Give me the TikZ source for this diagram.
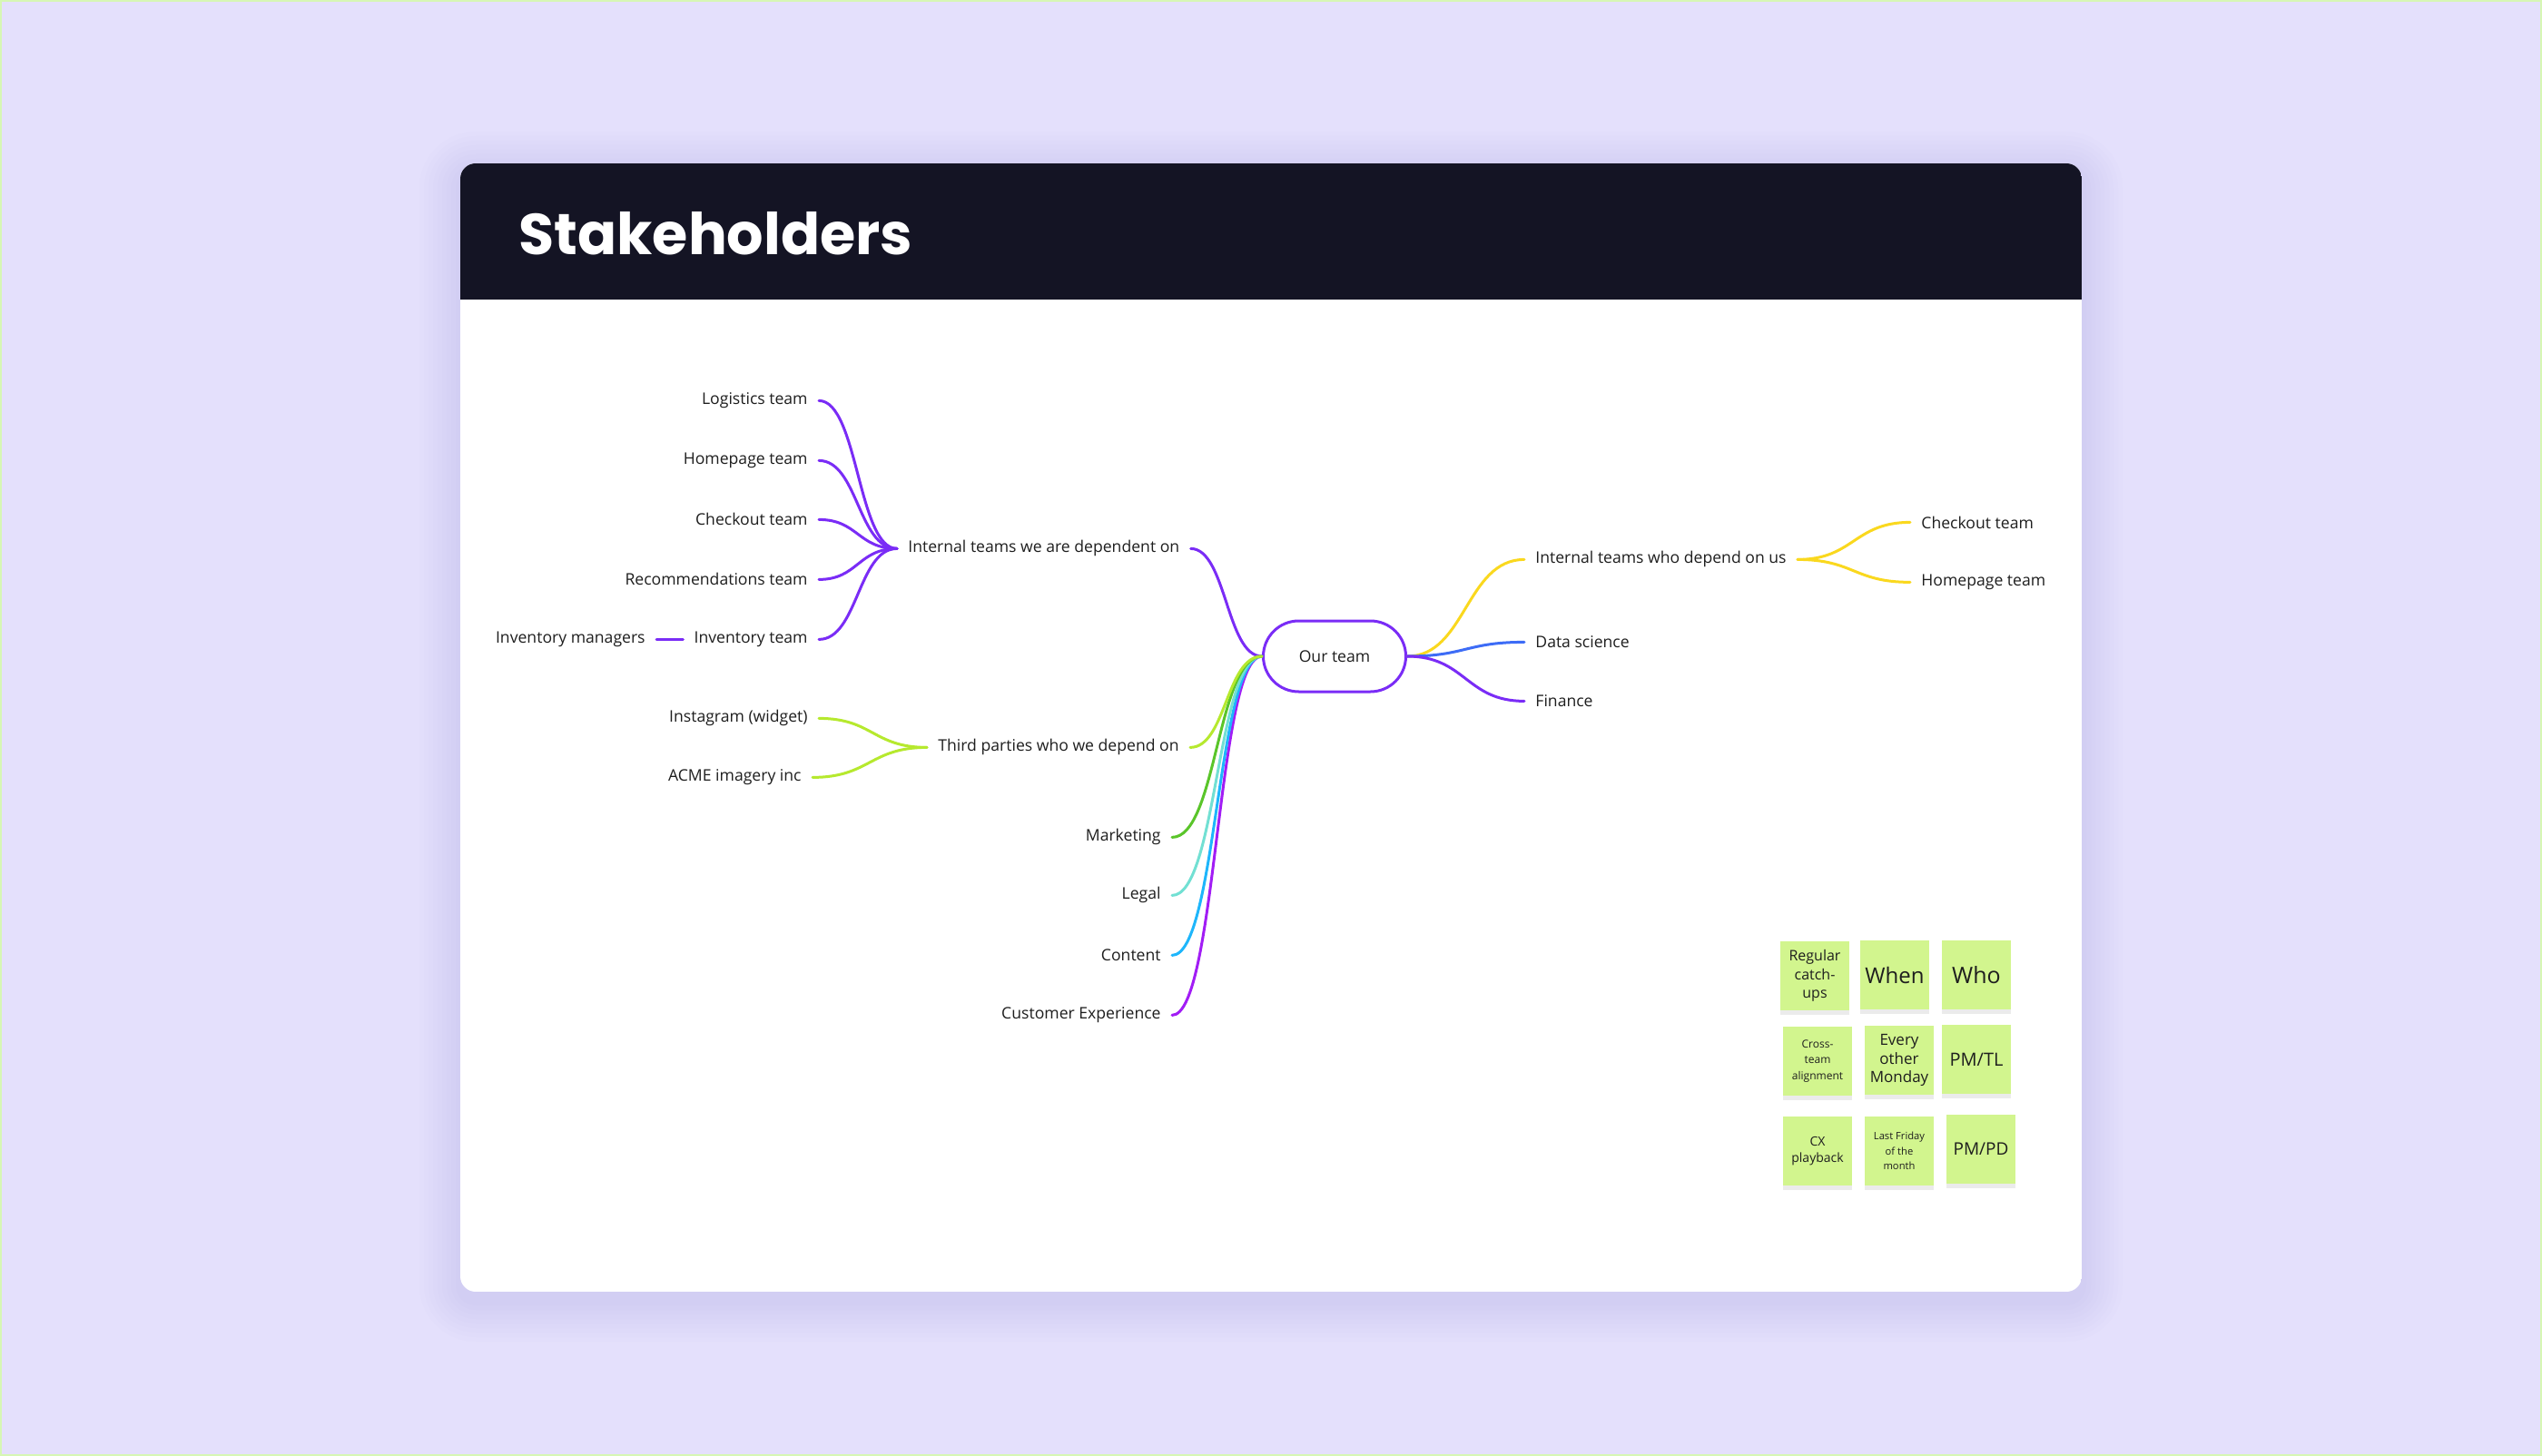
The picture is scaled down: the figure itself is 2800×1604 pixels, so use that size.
\documentclass[tikz,border=0pt]{standalone}
\usepackage{fontspec}
\setmainfont{Open Sans}
\newfontfamily\titlefont{Poppins}
\usetikzlibrary{positioning,calc,shadows}
\definecolor{bgc}{HTML}{E4E0FC}
\definecolor{edgec}{HTML}{D6F7B4}
\definecolor{shadowc}{HTML}{A89DDC}
\definecolor{headc}{HTML}{141424}
\definecolor{ink}{HTML}{1E1E1E}
\definecolor{purplec}{HTML}{7A2CF6}
\definecolor{violetc}{HTML}{A21DF5}
\definecolor{limec}{HTML}{B6E92E}
\definecolor{greenc}{HTML}{5AC52A}
\definecolor{tealc}{HTML}{72E0D3}
\definecolor{skyc}{HTML}{1EB6FB}
\definecolor{bluec}{HTML}{3D6CF6}
\definecolor{yellowc}{HTML}{FAD81E}
\definecolor{stickyc}{HTML}{D2F58E}

\begin{document}
\begin{tikzpicture}[x=0.5pt,y=-0.5pt,
every node/.style={font=\fontsize{8.8pt}{11pt}\selectfont,text=ink,
inner xsep=6pt,inner ysep=2pt},
link/.style={line width=1.5pt,line cap=round},
branch/.style={link,to path={let \p1=(\tikztostart),\p2=(\tikztotarget) in
.. controls ({(\x1+\x2)/2},\y1) and ({(\x1+\x2)/2},\y2) .. (\tikztotarget)}},
lbl/.style={anchor=east,yshift=-1.2pt},
rbl/.style={anchor=west,yshift=-1.2pt},
sticky/.style={fill=stickyc,minimum size=38pt,inner sep=1pt,align=center,
drop shadow={shadow xshift=0pt,shadow yshift=-2.5pt,fill=black,opacity=0.08}}]
\useasboundingbox (0,0) rectangle (2800,1604);
\fill[bgc] (0,0) rectangle (2800,1604);
\draw[edgec,line width=1pt] (1,1) rectangle (2799,1603);
\foreach \i in {1,...,9}
  \fill[shadowc,opacity=0.022,rounded corners=8.5pt+\i*2.5pt]
    (507-\i*5,180-\i*5+10) rectangle (2293+\i*5,1423+\i*5+10);
\begin{scope}
\clip[rounded corners=8.5pt] (507,180) rectangle (2293,1423);
\fill[white] (507,180) rectangle (2293,1423);
\fill[headc] (507,180) rectangle (2293,330);
\end{scope}
\node[anchor=base west,inner sep=0pt,text=white,
font=\titlefont\bfseries\fontsize{31.8pt}{36pt}\selectfont] (title) at (571,281) {Stakeholders};

\node[draw=purplec,line width=1.5pt,fill=white,rounded corners=19.5pt,
minimum width=78.5pt,minimum height=39pt] (ourteam) at (1470,723) {Our team};

\node[rbl] (dep) at (988,602) {Internal teams we are dependent on};
\node[lbl] (logistics) at (902,439) {Logistics team};
\node[lbl] (homepage) at (902,505) {Homepage team};
\node[lbl] (checkout) at (902,570) {Checkout team};
\node[lbl] (recs) at (902,636) {Recommendations team};
\node[lbl] (invteam) at (902,702) {Inventory team};
\node[lbl] (invmgr) at (723,702) {Inventory managers};

\node[rbl] (third) at (1021,821) {Third parties who we depend on};
\node[lbl] (instagram) at (902,789) {Instagram (widget)};
\node[lbl] (acme) at (895,854) {ACME imagery inc};

\node[lbl] (marketing) at (1291,920) {Marketing};
\node[lbl] (legal) at (1291,984) {Legal};
\node[lbl] (content) at (1291,1050) {Content};
\node[lbl] (cx) at (1291,1116) {Customer Experience};

\node[rbl] (whodep) at (1679,614) {Internal teams who depend on us};
\node[rbl] (datasci) at (1679,705) {Data science};
\node[rbl] (finance) at (1679,770) {Finance};
\node[rbl] (checkoutr) at (2104,573) {Checkout team};
\node[rbl] (homepager) at (2104,639) {Homepage team};

\foreach \n in {logistics,homepage,checkout,recs,invteam}
  \draw[branch,purplec] (\n.east) to (dep.west);
\draw[link,purplec] (invmgr.east) -- (invteam.west);
\draw[branch,purplec] (dep.east) to (ourteam.west);
\draw[branch,limec] (instagram.east) to (third.west);
\draw[branch,limec] (acme.east) to (third.west);
\draw[branch,violetc] (cx.east) to (ourteam.west);
\draw[branch,skyc] (content.east) to (ourteam.west);
\draw[branch,tealc] (legal.east) to (ourteam.west);
\draw[branch,greenc] (marketing.east) to (ourteam.west);
\draw[branch,limec] (third.east) to (ourteam.west);
\draw[branch,yellowc] (ourteam.east) to (whodep.west);
\draw[branch,bluec] (ourteam.east) to (datasci.west);
\draw[branch,purplec] (ourteam.east) to (finance.west);
\draw[branch,yellowc] (whodep.east) to (checkoutr.west);
\draw[branch,yellowc] (whodep.east) to (homepager.west);

\node[sticky,font=\fontsize{8pt}{10.4pt}\selectfont] (regular) at (1999,1075) {Regular\\catch-\\ups};
\node[sticky,font=\fontsize{12pt}{14pt}\selectfont] (when) at (2087,1074) {When};
\node[sticky,font=\fontsize{12.5pt}{14pt}\selectfont] (who) at (2177,1074) {Who};
\node[sticky,font=\fontsize{6pt}{8.6pt}\selectfont] (cross) at (2002,1169) {Cross-\\team\\alignment};
\node[sticky,font=\fontsize{8.5pt}{10.4pt}\selectfont] (monday) at (2092,1168) {Every\\other\\Monday};
\node[sticky,font=\fontsize{10pt}{12pt}\selectfont] (pmtl) at (2177,1167) {PM/TL};
\node[sticky,font=\fontsize{7pt}{9pt}\selectfont] (cxplay) at (2002,1268) {CX\\playback};
\node[sticky,font=\fontsize{5.6pt}{8.2pt}\selectfont] (friday) at (2092,1268) {Last Friday\\of the\\month};
\node[sticky,font=\fontsize{9.5pt}{12pt}\selectfont] (pmpd) at (2182,1266) {PM/PD};
\end{tikzpicture}
\end{document}
